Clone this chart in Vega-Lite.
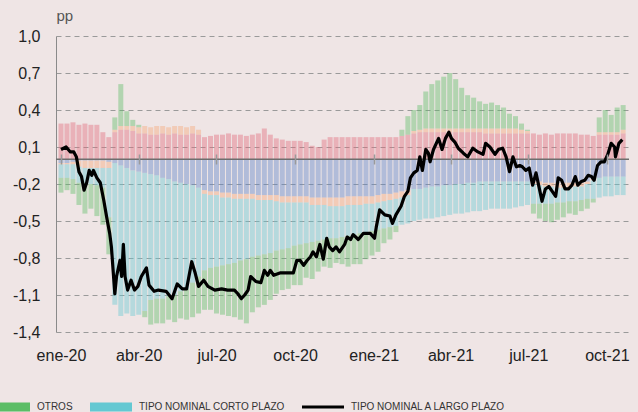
{
  "$schema": "https://vega.github.io/schema/vega-lite/v6.json",
  "width": 573,
  "height": 296,
  "autosize": {"type": "none"},
  "padding": {"left": 56, "top": 36, "right": 9, "bottom": 80},
  "background": "#efe5e5",
  "config": {"view": {"stroke": null}, "font": "Liberation Sans"},
  "datasets": {
    "barras": [
      {"d":"2020-01-01","s1":0.29,"s2":-0.03,"s3":-0.01,"s4":-0.11,"s5":-0.12},
      {"d":"2020-01-08","s1":0.29,"s2":-0.03,"s3":-0.01,"s4":-0.11,"s5":-0.10},
      {"d":"2020-01-15","s1":0.30,"s2":-0.02,"s3":-0.02,"s4":-0.12,"s5":-0.12},
      {"d":"2020-01-22","s1":0.28,"s2":-0.01,"s3":-0.05,"s4":-0.13,"s5":-0.18},
      {"d":"2020-01-29","s1":0.29,"s2":-0.01,"s3":-0.06,"s4":-0.12,"s5":-0.25},
      {"d":"2020-02-05","s1":0.28,"s2":-0.01,"s3":-0.06,"s4":-0.13,"s5":-0.20},
      {"d":"2020-02-12","s1":0.28,"s2":-0.01,"s3":-0.06,"s4":-0.14,"s5":-0.25},
      {"d":"2020-02-19","s1":0.22,"s2":-0.01,"s3":-0.06,"s4":-0.16,"s5":-0.30},
      {"d":"2020-02-26","s1":0.18,"s2":-0.02,"s3":-0.05,"s4":-0.40,"s5":-0.30},
      {"d":"2020-03-04","s1":0.22,"s2":-0.03,"s3":0.02,"s4":-1.15,"s5":0.10},
      {"d":"2020-03-11","s1":0.24,"s2":-0.05,"s3":0.03,"s4":-1.22,"s5":0.34},
      {"d":"2020-03-18","s1":0.24,"s2":-0.07,"s3":0.03,"s4":-1.18,"s5":0.12},
      {"d":"2020-03-25","s1":0.23,"s2":-0.09,"s3":0.04,"s4":-1.18,"s5":0.05},
      {"d":"2020-04-01","s1":0.21,"s2":-0.10,"s3":0.05,"s4":-1.16,"s5":0.02},
      {"d":"2020-04-08","s1":0.21,"s2":-0.11,"s3":0.06,"s4":-1.12,"s5":-0.05},
      {"d":"2020-04-15","s1":0.20,"s2":-0.12,"s3":0.06,"s4":-1.02,"s5":-0.20},
      {"d":"2020-04-22","s1":0.20,"s2":-0.13,"s3":0.07,"s4":-1.00,"s5":-0.20},
      {"d":"2020-04-29","s1":0.21,"s2":-0.15,"s3":0.06,"s4":-0.98,"s5":-0.20},
      {"d":"2020-05-06","s1":0.20,"s2":-0.16,"s3":0.06,"s4":-0.95,"s5":-0.19},
      {"d":"2020-05-13","s1":0.21,"s2":-0.18,"s3":0.06,"s4":-0.92,"s5":-0.22},
      {"d":"2020-05-20","s1":0.20,"s2":-0.19,"s3":0.07,"s4":-0.88,"s5":-0.22},
      {"d":"2020-05-27","s1":0.20,"s2":-0.20,"s3":0.06,"s4":-0.85,"s5":-0.25},
      {"d":"2020-06-03","s1":0.21,"s2":-0.21,"s3":0.06,"s4":-0.79,"s5":-0.28},
      {"d":"2020-06-10","s1":0.20,"s2":-0.23,"s3":0.04,"s4":-0.72,"s5":-0.30},
      {"d":"2020-06-17","s1":0.18,"s2":-0.25,"s3":-0.03,"s4":-0.62,"s5":-0.32},
      {"d":"2020-06-24","s1":0.19,"s2":-0.26,"s3":-0.03,"s4":-0.59,"s5":-0.34},
      {"d":"2020-07-01","s1":0.20,"s2":-0.26,"s3":-0.03,"s4":-0.58,"s5":-0.38},
      {"d":"2020-07-08","s1":0.20,"s2":-0.27,"s3":-0.04,"s4":-0.55,"s5":-0.40},
      {"d":"2020-07-15","s1":0.21,"s2":-0.27,"s3":-0.04,"s4":-0.54,"s5":-0.42},
      {"d":"2020-07-22","s1":0.20,"s2":-0.28,"s3":-0.04,"s4":-0.52,"s5":-0.44},
      {"d":"2020-07-29","s1":0.20,"s2":-0.28,"s3":-0.04,"s4":-0.50,"s5":-0.48},
      {"d":"2020-08-05","s1":0.19,"s2":-0.28,"s3":-0.04,"s4":-0.49,"s5":-0.52},
      {"d":"2020-08-12","s1":0.20,"s2":-0.28,"s3":-0.04,"s4":-0.47,"s5":-0.45},
      {"d":"2020-08-19","s1":0.21,"s2":-0.29,"s3":-0.04,"s4":-0.45,"s5":-0.42},
      {"d":"2020-08-26","s1":0.25,"s2":-0.29,"s3":-0.04,"s4":-0.44,"s5":-0.41},
      {"d":"2020-09-02","s1":0.20,"s2":-0.29,"s3":-0.04,"s4":-0.43,"s5":-0.38},
      {"d":"2020-09-09","s1":0.17,"s2":-0.29,"s3":-0.05,"s4":-0.40,"s5":-0.35},
      {"d":"2020-09-16","s1":0.16,"s2":-0.30,"s3":-0.05,"s4":-0.38,"s5":-0.33},
      {"d":"2020-09-23","s1":0.15,"s2":-0.30,"s3":-0.05,"s4":-0.37,"s5":-0.33},
      {"d":"2020-09-30","s1":0.15,"s2":-0.30,"s3":-0.05,"s4":-0.35,"s5":-0.32},
      {"d":"2020-10-07","s1":0.15,"s2":-0.30,"s3":-0.05,"s4":-0.34,"s5":-0.33},
      {"d":"2020-10-14","s1":0.14,"s2":-0.30,"s3":-0.05,"s4":-0.33,"s5":-0.28},
      {"d":"2020-10-21","s1":0.11,"s2":-0.31,"s3":-0.06,"s4":-0.30,"s5":-0.30},
      {"d":"2020-10-28","s1":0.10,"s2":-0.31,"s3":-0.06,"s4":-0.29,"s5":-0.25},
      {"d":"2020-11-04","s1":0.16,"s2":-0.31,"s3":-0.06,"s4":-0.28,"s5":-0.22},
      {"d":"2020-11-11","s1":0.18,"s2":-0.31,"s3":-0.07,"s4":-0.26,"s5":-0.24},
      {"d":"2020-11-18","s1":0.18,"s2":-0.31,"s3":-0.07,"s4":-0.26,"s5":-0.20},
      {"d":"2020-11-25","s1":0.18,"s2":-0.31,"s3":-0.07,"s4":-0.25,"s5":-0.22},
      {"d":"2020-12-02","s1":0.18,"s2":-0.30,"s3":-0.07,"s4":-0.25,"s5":-0.25},
      {"d":"2020-12-09","s1":0.18,"s2":-0.30,"s3":-0.07,"s4":-0.24,"s5":-0.24},
      {"d":"2020-12-16","s1":0.18,"s2":-0.30,"s3":-0.07,"s4":-0.23,"s5":-0.25},
      {"d":"2020-12-23","s1":0.18,"s2":-0.30,"s3":-0.06,"s4":-0.23,"s5":-0.22},
      {"d":"2020-12-30","s1":0.18,"s2":-0.30,"s3":-0.06,"s4":-0.22,"s5":-0.20},
      {"d":"2021-01-06","s1":0.18,"s2":-0.29,"s3":-0.06,"s4":-0.22,"s5":-0.18},
      {"d":"2021-01-13","s1":0.18,"s2":-0.28,"s3":-0.06,"s4":-0.22,"s5":-0.12},
      {"d":"2021-01-20","s1":0.18,"s2":-0.28,"s3":-0.05,"s4":-0.22,"s5":-0.10},
      {"d":"2021-01-27","s1":0.18,"s2":-0.27,"s3":-0.05,"s4":-0.22,"s5":-0.05},
      {"d":"2021-02-03","s1":0.19,"s2":-0.26,"s3":-0.05,"s4":-0.22,"s5":0.05},
      {"d":"2021-02-10","s1":0.20,"s2":-0.25,"s3":-0.04,"s4":-0.23,"s5":0.15},
      {"d":"2021-02-17","s1":0.21,"s2":-0.24,"s3":0.02,"s4":-0.26,"s5":0.17},
      {"d":"2021-02-24","s1":0.22,"s2":-0.24,"s3":0.02,"s4":-0.25,"s5":0.20},
      {"d":"2021-03-03","s1":0.22,"s2":-0.23,"s3":0.03,"s4":-0.25,"s5":0.30},
      {"d":"2021-03-10","s1":0.22,"s2":-0.22,"s3":0.03,"s4":-0.26,"s5":0.36},
      {"d":"2021-03-17","s1":0.22,"s2":-0.22,"s3":0.03,"s4":-0.25,"s5":0.39},
      {"d":"2021-03-24","s1":0.22,"s2":-0.21,"s3":0.03,"s4":-0.25,"s5":0.42},
      {"d":"2021-03-31","s1":0.22,"s2":-0.21,"s3":0.03,"s4":-0.24,"s5":0.45},
      {"d":"2021-04-07","s1":0.22,"s2":-0.20,"s3":0.03,"s4":-0.24,"s5":0.40},
      {"d":"2021-04-14","s1":0.22,"s2":-0.20,"s3":0.03,"s4":-0.24,"s5":0.33},
      {"d":"2021-04-21","s1":0.22,"s2":-0.19,"s3":0.03,"s4":-0.24,"s5":0.27},
      {"d":"2021-04-28","s1":0.22,"s2":-0.19,"s3":0.03,"s4":-0.23,"s5":0.25},
      {"d":"2021-05-05","s1":0.22,"s2":-0.18,"s3":0.03,"s4":-0.24,"s5":0.22},
      {"d":"2021-05-12","s1":0.21,"s2":-0.18,"s3":0.04,"s4":-0.23,"s5":0.20},
      {"d":"2021-05-19","s1":0.21,"s2":-0.18,"s3":0.04,"s4":-0.22,"s5":0.21},
      {"d":"2021-05-26","s1":0.21,"s2":-0.18,"s3":0.04,"s4":-0.22,"s5":0.19},
      {"d":"2021-06-02","s1":0.21,"s2":-0.18,"s3":0.04,"s4":-0.22,"s5":0.17},
      {"d":"2021-06-09","s1":0.21,"s2":-0.18,"s3":0.04,"s4":-0.22,"s5":0.12},
      {"d":"2021-06-16","s1":0.21,"s2":-0.18,"s3":0.04,"s4":-0.21,"s5":0.10},
      {"d":"2021-06-23","s1":0.21,"s2":-0.18,"s3":0.03,"s4":-0.20,"s5":0.05},
      {"d":"2021-06-30","s1":0.21,"s2":-0.18,"s3":0.02,"s4":-0.19,"s5":0.01},
      {"d":"2021-07-07","s1":0.21,"s2":-0.18,"s3":-0.02,"s4":-0.16,"s5":-0.08},
      {"d":"2021-07-14","s1":0.20,"s2":-0.18,"s3":-0.03,"s4":-0.15,"s5":-0.12},
      {"d":"2021-07-21","s1":0.21,"s2":-0.19,"s3":-0.03,"s4":-0.14,"s5":-0.14},
      {"d":"2021-07-28","s1":0.20,"s2":-0.19,"s3":-0.03,"s4":-0.14,"s5":-0.15},
      {"d":"2021-08-04","s1":0.21,"s2":-0.19,"s3":-0.04,"s4":-0.12,"s5":-0.14},
      {"d":"2021-08-11","s1":0.21,"s2":-0.19,"s3":-0.04,"s4":-0.12,"s5":-0.12},
      {"d":"2021-08-18","s1":0.21,"s2":-0.19,"s3":-0.04,"s4":-0.11,"s5":-0.10},
      {"d":"2021-08-25","s1":0.21,"s2":-0.19,"s3":-0.03,"s4":-0.12,"s5":-0.11},
      {"d":"2021-09-01","s1":0.20,"s2":-0.19,"s3":-0.03,"s4":-0.11,"s5":-0.09},
      {"d":"2021-09-08","s1":0.20,"s2":-0.18,"s3":-0.02,"s4":-0.12,"s5":-0.08},
      {"d":"2021-09-15","s1":0.19,"s2":-0.16,"s3":-0.01,"s4":-0.15,"s5":-0.03},
      {"d":"2021-09-22","s1":0.20,"s2":-0.15,"s3":0.02,"s4":-0.16,"s5":0.12},
      {"d":"2021-09-29","s1":0.20,"s2":-0.14,"s3":0.02,"s4":-0.16,"s5":0.18},
      {"d":"2021-10-06","s1":0.20,"s2":-0.14,"s3":0.02,"s4":-0.16,"s5":0.14},
      {"d":"2021-10-13","s1":0.20,"s2":-0.14,"s3":0.02,"s4":-0.15,"s5":0.20},
      {"d":"2021-10-20","s1":0.21,"s2":-0.14,"s3":0.03,"s4":-0.15,"s5":0.20}
    ],
    "linea": [
      {"d":"2020-01-01","v":0.08},{"d":"2020-01-07","v":0.10},{"d":"2020-01-12","v":0.06},{"d":"2020-01-16","v":0.06},
      {"d":"2020-01-19","v":0.02},{"d":"2020-01-22","v":-0.10},{"d":"2020-01-25","v":-0.14},{"d":"2020-01-28","v":-0.25},
      {"d":"2020-01-31","v":-0.19},{"d":"2020-02-03","v":-0.09},{"d":"2020-02-06","v":-0.13},{"d":"2020-02-08","v":-0.09},
      {"d":"2020-02-12","v":-0.15},{"d":"2020-02-16","v":-0.19},{"d":"2020-02-20","v":-0.33},{"d":"2020-02-24","v":-0.49},
      {"d":"2020-02-27","v":-0.60},{"d":"2020-02-29","v":-0.71},{"d":"2020-03-04","v":-1.09},{"d":"2020-03-06","v":-0.95},
      {"d":"2020-03-10","v":-0.82},{"d":"2020-03-12","v":-0.95},{"d":"2020-03-14","v":-0.69},{"d":"2020-03-16","v":-0.95},
      {"d":"2020-03-19","v":-1.06},{"d":"2020-03-23","v":-0.98},{"d":"2020-03-27","v":-1.06},{"d":"2020-03-31","v":-1.03},
      {"d":"2020-04-04","v":-0.95},{"d":"2020-04-10","v":-0.88},{"d":"2020-04-13","v":-1.02},{"d":"2020-04-19","v":-1.07},
      {"d":"2020-04-24","v":-1.06},{"d":"2020-05-03","v":-1.07},{"d":"2020-05-10","v":-1.13},{"d":"2020-05-16","v":-1.01},
      {"d":"2020-05-22","v":-1.05},{"d":"2020-05-27","v":-1.05},{"d":"2020-06-02","v":-0.83},{"d":"2020-06-06","v":-0.92},
      {"d":"2020-06-10","v":-1.03},{"d":"2020-06-16","v":-0.98},{"d":"2020-06-21","v":-1.03},{"d":"2020-06-29","v":-1.06},
      {"d":"2020-07-07","v":-1.05},{"d":"2020-07-14","v":-1.06},{"d":"2020-07-22","v":-1.06},{"d":"2020-07-26","v":-1.09},
      {"d":"2020-07-30","v":-1.13},{"d":"2020-08-03","v":-1.10},{"d":"2020-08-07","v":-1.06},{"d":"2020-08-10","v":-0.95},
      {"d":"2020-08-16","v":-0.99},{"d":"2020-08-22","v":-1.00},{"d":"2020-08-26","v":-0.90},{"d":"2020-08-30","v":-0.94},
      {"d":"2020-09-02","v":-0.90},{"d":"2020-09-06","v":-0.94},{"d":"2020-09-14","v":-0.92},{"d":"2020-09-22","v":-0.92},
      {"d":"2020-09-29","v":-0.92},{"d":"2020-10-03","v":-0.82},{"d":"2020-10-07","v":-0.82},{"d":"2020-10-11","v":-0.86},
      {"d":"2020-10-15","v":-0.82},{"d":"2020-10-19","v":-0.79},{"d":"2020-10-22","v":-0.75},{"d":"2020-10-26","v":-0.79},
      {"d":"2020-10-30","v":-0.69},{"d":"2020-11-03","v":-0.81},{"d":"2020-11-07","v":-0.64},{"d":"2020-11-10","v":-0.71},
      {"d":"2020-11-14","v":-0.74},{"d":"2020-11-18","v":-0.71},{"d":"2020-11-22","v":-0.75},{"d":"2020-11-28","v":-0.69},
      {"d":"2020-12-01","v":-0.63},{"d":"2020-12-05","v":-0.65},{"d":"2020-12-08","v":-0.61},{"d":"2020-12-14","v":-0.65},
      {"d":"2020-12-20","v":-0.60},{"d":"2020-12-28","v":-0.60},{"d":"2021-01-02","v":-0.64},{"d":"2021-01-04","v":-0.55},
      {"d":"2021-01-08","v":-0.41},{"d":"2021-01-14","v":-0.45},{"d":"2021-01-20","v":-0.46},{"d":"2021-01-23","v":-0.52},
      {"d":"2021-01-27","v":-0.45},{"d":"2021-02-02","v":-0.38},{"d":"2021-02-06","v":-0.30},{"d":"2021-02-10","v":-0.26},
      {"d":"2021-02-13","v":-0.15},{"d":"2021-02-17","v":-0.11},{"d":"2021-02-21","v":-0.09},{"d":"2021-02-24","v":0.02},
      {"d":"2021-02-27","v":-0.09},{"d":"2021-03-03","v":0.08},{"d":"2021-03-06","v":0.05},{"d":"2021-03-08","v":-0.02},
      {"d":"2021-03-12","v":0.08},{"d":"2021-03-18","v":0.17},{"d":"2021-03-22","v":0.08},{"d":"2021-03-26","v":0.17},
      {"d":"2021-03-30","v":0.22},{"d":"2021-04-02","v":0.17},{"d":"2021-04-06","v":0.14},{"d":"2021-04-10","v":0.09},
      {"d":"2021-04-16","v":0.05},{"d":"2021-04-21","v":0.02},{"d":"2021-04-27","v":0.09},{"d":"2021-05-03","v":0.06},
      {"d":"2021-05-09","v":0.04},{"d":"2021-05-12","v":0.13},{"d":"2021-05-17","v":0.10},{"d":"2021-05-23","v":0.04},
      {"d":"2021-05-27","v":0.08},{"d":"2021-06-01","v":0.09},{"d":"2021-06-05","v":0.02},{"d":"2021-06-09","v":-0.10},
      {"d":"2021-06-13","v":0.02},{"d":"2021-06-17","v":-0.06},{"d":"2021-06-21","v":-0.05},{"d":"2021-06-24","v":-0.06},
      {"d":"2021-06-28","v":-0.09},{"d":"2021-07-02","v":-0.07},{"d":"2021-07-06","v":-0.21},{"d":"2021-07-10","v":-0.11},
      {"d":"2021-07-14","v":-0.24},{"d":"2021-07-17","v":-0.34},{"d":"2021-07-21","v":-0.24},{"d":"2021-07-25","v":-0.22},
      {"d":"2021-07-29","v":-0.26},{"d":"2021-08-02","v":-0.30},{"d":"2021-08-05","v":-0.15},{"d":"2021-08-09","v":-0.17},
      {"d":"2021-08-13","v":-0.24},{"d":"2021-08-17","v":-0.24},{"d":"2021-08-21","v":-0.21},{"d":"2021-08-25","v":-0.14},
      {"d":"2021-08-28","v":-0.21},{"d":"2021-09-01","v":-0.18},{"d":"2021-09-05","v":-0.17},{"d":"2021-09-09","v":-0.13},
      {"d":"2021-09-13","v":-0.14},{"d":"2021-09-16","v":-0.17},{"d":"2021-09-20","v":-0.05},{"d":"2021-09-24","v":-0.02},
      {"d":"2021-09-28","v":-0.02},{"d":"2021-10-02","v":0.04},{"d":"2021-10-06","v":0.13},{"d":"2021-10-10","v":0.10},
      {"d":"2021-10-11","v":0.02},{"d":"2021-10-15","v":0.13},{"d":"2021-10-19","v":0.16}
    ]
  },
  "layer": [
    {
      "data": {"name": "barras"},
      "transform": [{"fold": ["s1", "s2", "s3", "s4", "s5"], "as": ["serie", "valor"]}],
      "mark": {"type": "bar", "size": 5, "opacity": 0.42, "clip": true},
      "encoding": {
        "x": {
          "field": "d", "type": "temporal",
          "scale": {"type": "utc", "domain": [{"year": 2020, "month": 1, "date": 1, "utc": true}, {"year": 2021, "month": 10, "date": 21, "utc": true}]},
          "axis": {
            "values": [
              {"year": 2020, "month": 1, "date": 1, "utc": true},
              {"year": 2020, "month": 4, "date": 1, "utc": true},
              {"year": 2020, "month": 7, "date": 1, "utc": true},
              {"year": 2020, "month": 10, "date": 1, "utc": true},
              {"year": 2021, "month": 1, "date": 1, "utc": true},
              {"year": 2021, "month": 4, "date": 1, "utc": true},
              {"year": 2021, "month": 7, "date": 1, "utc": true},
              {"year": 2021, "month": 10, "date": 1, "utc": true}
            ],
            "tickCount": 20,
            "labelExpr": "['ene','feb','mar','abr','may','jun','jul','ago','sep','oct','nov','dic'][utcmonth(datum.value)] + '-' + utcFormat(datum.value, '%y')",
            "offset": -178,
            "domain": false,
            "grid": false,
            "tickSize": 10,
            "tickColor": "#9a9a9a",
            "tickWidth": 1.5,
            "labelPadding": 196,
            "labelBaseline": "alphabetic",
            "labelFontSize": 16,
            "labelColor": "#222222",
            "labelFlush": false,
            "labelOverlap": false,
            "title": null,
            "zindex": 1
          }
        },
        "y": {
          "field": "valor", "type": "quantitative", "stack": "zero",
          "scale": {"domain": [-1.4, 1.0], "nice": false, "zero": false},
          "axis": {
            "values": [-1.4, -1.1, -0.8, -0.5, -0.2, 0.1, 0.4, 0.7, 1.0],
            "tickCount": 20,
            "labelExpr": "replace(replace(format(datum.value, '.1f'), '.', ','), '\u2212', '-')",
            "labelOverlap": false,
            "labelBound": false,
            "grid": true,
            "gridDash": [5, 4],
            "gridColor": "#9a9a9a",
            "gridWidth": 1,
            "domainColor": "#8a8a8a",
            "ticks": false,
            "tickSize": 0,
            "labelPadding": 16,
            "labelFontSize": 16,
            "labelColor": "#222222",
            "title": "pp",
            "titleAngle": 0,
            "titleX": 0,
            "titleY": -16,
            "titleAlign": "left",
            "titleBaseline": "alphabetic",
            "titleFontWeight": "normal",
            "titleFontSize": 15,
            "titleColor": "#555555"
          }
        },
        "color": {
          "field": "serie", "type": "nominal",
          "scale": {
            "domain": ["s5", "s4", "L", "s1", "s2", "s3"],
            "range": ["#5cbd66", "#64c8d2", "#000000", "#e0697a", "#5b83c7", "#f5a878"]
          },
          "legend": {
            "values": ["s5", "s4", "L"],
            "labelExpr": "datum.value == 's5' ? 'OTROS' : datum.value == 's4' ? 'TIPO NOMINAL CORTO PLAZO' : 'TIPO NOMINAL A LARGO PLAZO'",
            "orient": "none",
            "legendX": -68,
            "legendY": 350,
            "direction": "horizontal",
            "symbolType": "M-1,-0.21H1V0.21H-1Z",
            "symbolSize": 1764,
            "symbolOpacity": 1,
            "symbolStrokeWidth": 0,
            "labelFont": "Liberation Sans",
            "labelFontSize": 10,
            "labelColor": "#333333",
            "labelOffset": 7,
            "labelLimit": 0,
            "columnPadding": 17,
            "padding": 0,
            "title": null,
            "encode": {
              "symbols": {
                "update": {
                  "shape": {"signal": "datum.value === 'L' ? 'M-1,-0.07H1V0.07H-1Z' : 'M-1,-0.21H1V0.21H-1Z'"}
                }
              }
            }
          }
        },
        "order": {"field": "serie", "type": "ordinal", "sort": "ascending"}
      }
    },
    {
      "data": {"values": [{}]},
      "mark": {"type": "rule", "color": "#6e6e6e", "strokeWidth": 1.5},
      "encoding": {"y": {"datum": 0}}
    },
    {
      "data": {"name": "linea"},
      "mark": {"type": "line", "color": "#000000", "strokeWidth": 3.2, "strokeJoin": "round", "clip": true},
      "encoding": {
        "x": {"field": "d", "type": "temporal"},
        "y": {"field": "v", "type": "quantitative"}
      }
    }
  ]
}
